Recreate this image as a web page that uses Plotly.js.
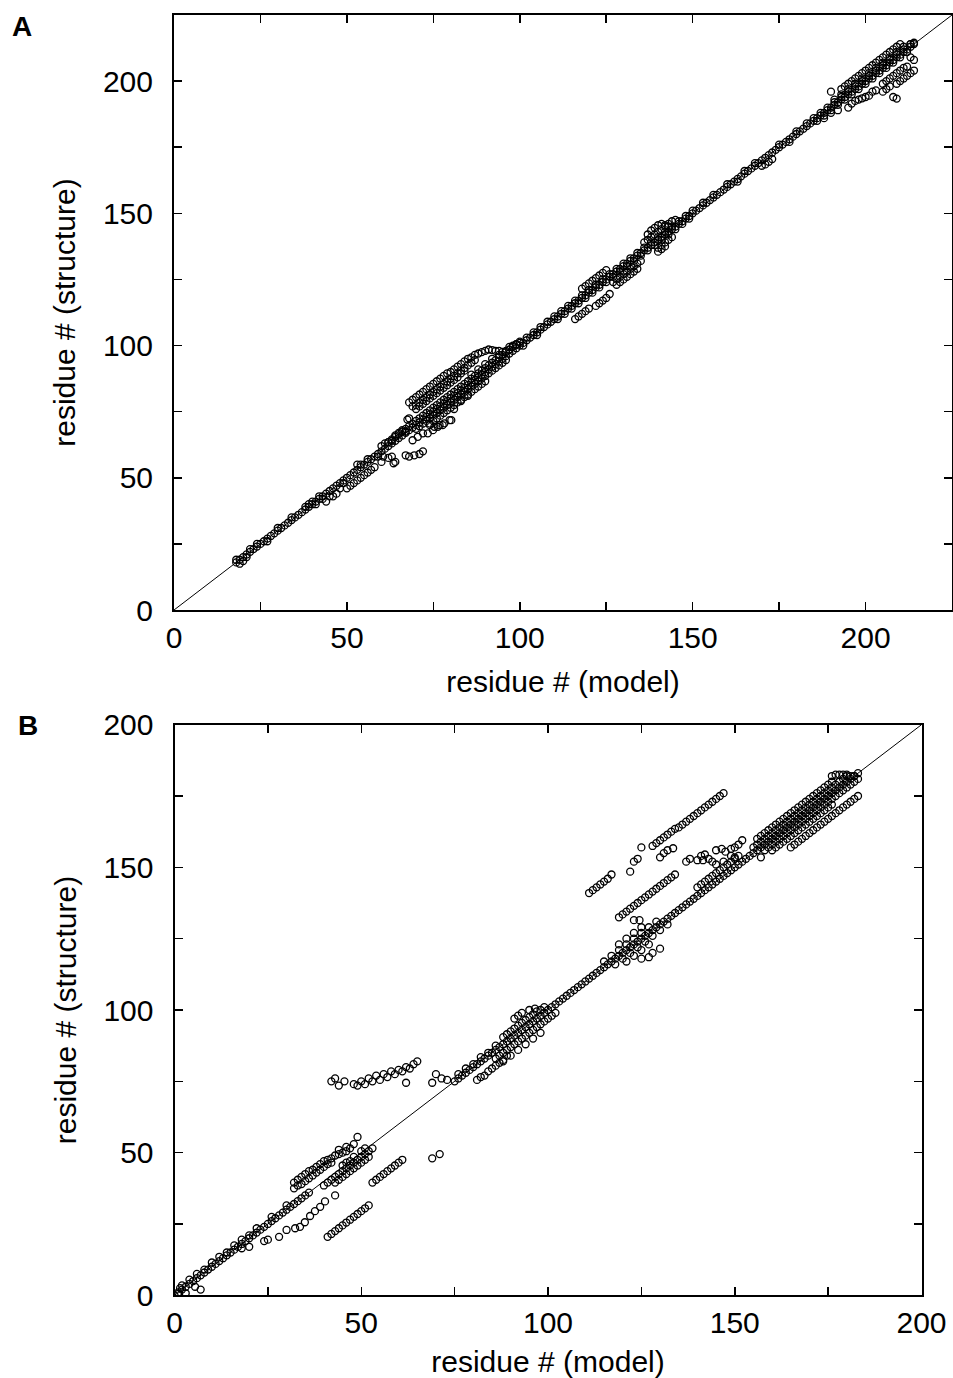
<!DOCTYPE html>
<html><head><meta charset="utf-8">
<script src="https://cdn.plot.ly/plotly-3.0.1.min.js"></script>
<style>html,body{margin:0;padding:0;background:#fff;} #chart{width:953px;height:1378px;}</style>
</head><body><div id="chart"></div>
<script>
// ---------- Panel A data ----------
const aIdentity = [0, 225];
const aTickVals = [0,25,50,75,100,125,150,175,200,225];
const aTickText = ['0','','50','','100','','150','','200',''];
// residues plotted on the diagonal (model residue == structure residue)
const aDiagResidues = [18,19,20,21,22,23,24,25,26,27,28,29,30,31,32,33,34,35,36,37,38,39,40,41,42,43,44,45,46,47,48,49,50,51,52,53,54,55,56,57,58,59,60,61,62,63,64,65,66,67,68,69,70,71,72,73,74,75,76,77,78,79,80,81,82,83,84,85,86,87,88,89,90,91,92,93,94,95,96,97,98,99,100,101,102,103,104,105,106,107,108,109,110,111,112,113,114,115,116,117,118,119,120,121,122,123,124,125,126,127,128,129,130,131,132,133,134,135,136,137,138,139,140,141,142,143,144,145,146,147,148,149,150,151,152,153,154,155,156,157,158,159,160,161,162,163,164,165,166,167,168,169,170,171,172,173,174,175,176,177,178,179,180,181,182,183,184,185,186,187,188,189,190,191,192,193,194,195,196,197,198,199,200,201,202,203,204,205,206,207,208,209,210,211,212,213,214];
const aStart = [[18,19],[19,17.5],[20,18.5],[21,20],[22,23],[24,25],[27,26],[30,31],[34,35]];
const aNear40 = [[38,39],[39,40],[40,41],[41,40],[42,43],[43,42],[44,41],[45,43],[46,43],[47,44],[48,46],[49,48],[53,55],[54,55],[56,57],[59,58]];
const aBelow50 = [[50,46],[51,47],[52,48],[53,49],[54,50],[55,51],[56,52],[57,53],[58,54]];
const aNear60 = [[60,62],[61,63],[62,63.5],[63,64],[64,66],[65,67],[66,68],[67,67.5],[67.5,72],[68,72.5]];
const aBelow60 = [[60,56],[60.5,58],[62,57.5],[63,58],[63.5,55.5],[64,56],[67,58.5],[68,58],[69.5,58.5],[71,59],[72,60]];
const aLowRow70 = [[69,64.2],[70.5,65.5],[72,66.8],[73.4,66.8],[74.9,68],[76.3,69.3],[77.7,69.9],[79.7,71.8],[74,69.9],[75.3,69.3],[76.8,69.9],[78.2,70.6],[80.2,71.8],[81,76],[83,79],[85,81]];
const aBandPlus = [[62,63.5],[63,64.5],[64,65.5],[65,66.5],[66,67.5],[67,68.5],[68,69.5],[69,70.5],[70,71.5],[71,72.5],[72,73.5],[73,74.5],[74,75.5],[75,76.5],[76,77.5],[77,78.5],[78,79.5],[79,80.5],[80,81.5],[81,82.5],[82,83.5],[83,84.5],[84,85.5],[85,86.5],[86,87.5],[87,88.5],[88,89.5],[89,90.5],[90,91.5],[91,92.5],[92,93.5],[93,94.5],[94,95.5],[95,96.5],[96,97.5],[97,98.5],[98,99.5],[99,100.5]];
const aBandMinus = [[70,68.5],[71,69.5],[72,70.5],[73,71.5],[74,72.5],[75,73.5],[76,74.5],[77,75.5],[78,76.5],[79,77.5],[80,78.5],[81,79.5],[82,80.5],[83,81.5],[84,82.5],[85,83.5],[86,84.5],[87,85.5],[88,86.5],[89,87.5],[90,88.5],[91,89.5],[92,90.5],[93,91.5],[94,92.5],[95,93.5],[96,94.5]];
const aBandMinus2 = [[74,70.5],[75,71.5],[76,72.5],[77,73.5],[78,74.5],[79,75.5],[80,76.5],[81,77.5],[82,78.5],[83,79.5],[84,80.5],[85,81.5],[86,82.5],[87,83.5],[88,84.5],[89,85.5],[90,86.5]];
const aUpper1 = [[68,78.5],[69,79.5],[70,80.5],[71,81.5],[72,82.5],[73,83.5],[74,84.5],[75,85.5],[76,86.5],[77,87.5],[78,88.5],[79,89.5],[80,90],[81,91],[82,92],[83,93],[84,94],[85,95],[86,95.5]];
const aUpper2 = [[69,77],[70,77.5],[71,78.5],[72,79.5],[73,80.5],[74,81.5],[75,82.5],[76,83.5],[77,84.5],[78,85.5],[79,86.5],[80,87.5],[81,88.5],[82,89.5],[83,90.5],[84,91.5],[85,92.5],[86,93.5],[87,94.5]];
const aUpper3 = [[70,76],[71,77],[72,78],[73,79],[74,80],[75,81],[76,82],[77,83],[78,84],[79,85],[80,86],[81,87],[82,88],[83,89.5],[84,90.5]];
const aTop88 = [[87,96.5],[88,97],[89,97.5],[90,98],[91,98.5],[92,98.3],[93,98],[94,98],[95,97.6],[96,98],[97,99.5],[98,100],[99,100.5],[100,101.5],[86,89],[88,91],[90,93],[92,95],[94,96.5]];
const a100 = [[100,101],[102,103],[104,105],[106,107],[108,109],[101,100],[105,104]];
const a110Plus = [[110,111],[112,113],[114,115],[116,117],[118,119],[120,121],[122,123],[124,125],[126,127],[128,129],[130,131],[132,133],[134,135],[136,137],[138,139],[140,141],[142,143],[144,145],[146,147],[148,149],[150,151]];
const a110Minus = [[111,110],[113,112],[115,114],[117,116],[119,118],[121,120],[123,122],[125,124],[127,126],[129,128],[131,130],[133,132],[135,134],[137,136],[139,138],[141,140],[143,142],[145,144],[147,146],[149,148]];
const aBelow116 = [[116,110],[117,111],[118,112],[119,113],[120,114],[122,115],[123,116],[124,117],[125,118],[126,119.5]];
const aAbove118 = [[118,121.5],[119,122.5],[120,123.5],[121,124.5],[122,125.5],[123,126.5],[124,127.5],[125,128.5]];
const aBlob128 = [[127,124],[128,125],[129,126],[130,127],[131,128],[132,129],[133,130],[134,131],[135,132],[128,123],[129,124],[130,125],[131,126],[132,127],[133,128],[134,129]];
const aBlob138 = [[137,142],[138,143.5],[139,144.5],[140,145.5],[141,146],[142,145.5],[143,145],[136,139],[137,140],[138,141],[139,142],[140,143],[141,144],[142,145],[143,146],[144,147],[145,147.5],[140,137],[141,138],[142,139],[143,140],[144,141],[140,135.5],[141,136.5],[142,137.5]];
const a150 = [[153,154],[156,157],[160,161],[163,162],[165,166],[168,169],[170,168],[171,168.5],[172,169.5],[173,170.5],[175,176],[178,177],[180,181],[183,184],[188,186],[190,188],[192,189]];
const aBand185 = [[185,186],[187,188],[189,190],[191,192],[193,194],[195,196],[197,198],[199,200],[201,202],[203,204],[205,206],[207,208],[209,210],[211,212],[213,214],[186,185],[188,187],[190,189],[192,191],[194,193],[196,195],[198,197],[200,199],[202,201],[204,203],[206,205],[208,207],[210,209],[212,211]];
const aTop193 = [[193,197],[194,198],[195,199],[196,200],[197,201],[198,202],[199,203],[200,204],[201,205],[202,206],[203,207],[204,208],[205,209],[206,210],[207,211],[208,212],[209,213],[210,214]];
const aRow2 = [[191,193],[193,195],[195,197],[197,199],[199,201],[201,203],[203,205],[205,207],[207,209],[209,211],[211,213]];
const aLow195 = [[195,190],[196,191.5],[197,192.5],[198,193],[199,193.5],[200,194],[201,194.5],[202,196],[203,196.5]];
const aLow205 = [[205,199],[206,200],[207,201],[208,202],[209,203],[210,204],[211,205],[212,205.5],[213,209],[214,208]];
const aLow209 = [[205,196],[206,197],[207,198],[209,199],[210,200],[211,201],[212,202],[213,203],[214,204]];
const aLoose = [[208,194],[209,193.4],[190,196],[213,214],[214,214.5]];

// ---------- Panel B data ----------
const bIdentity = [0, 200];
const bTickVals = [0,25,50,75,100,125,150,175,200];
const bTickText = ['0','','50','','100','','150','','200'];
const bDiagResidues = [0,1,2,3,4,5,6,7,8,9,10,11,12,13,14,15,16,17,18,19,20,21,22,23,24,25,26,27,28,29,30,31,32,33,34,35,36,75,76,77,78,79,80,81,82,83,84,85,86,87,88,89,90,91,92,93,94,95,96,97,98,99,100,101,102,103,104,105,106,107,108,109,110,111,112,113,114,115,116,117,118,119,120,121,122,123,124,125,126,127,128,129,130,131,132,133,134,135,136,137,138,139,140,141,142,143,144,145,146,147,148,149,150,151,152,153,154,155,156,157,158,159,160,161,162,163,164,165,166,167,168,169,170,171,172,173,174,175,176,177,178,179,180,181,182,183];
const bNearStart = [[2,3.5],[4,5.5],[6,7.5],[8,9],[10,11.5],[12,13.5],[14,15],[16,17.5],[18,19.5],[20,21],[22,23.5],[26,27.5],[30,31.5],[18,16.5],[20,17],[1,0.5],[3,0.7],[1.5,2.5],[5.5,3],[7,2],[24,19],[25,19.5]];
const bRowM8 = [[28,20.5],[30,22.9],[32.3,23.5],[33.6,24],[34.9,25.6],[36.3,27.8],[37.6,29.5],[39,31],[40.3,32.9],[43,35]];
const bRowM20 = [[41,20.5],[42,21.5],[43,22.5],[44,23.5],[45,24.5],[46,25.5],[47,26.5],[48,27.5],[49,28.5],[50,29.5],[51,30.5],[52,31.5]];
const bRowM13 = [[53,39.5],[54,40.5],[55,41.5],[56,42.5],[57,43.5],[58,44.5],[59,45.5],[60,46.5],[61,47.5],[69,48],[71,49.5]];
const bUpper32 = [[32,39.5],[33,40.5],[34,41.5],[35,42.5],[36,43.5],[37,44],[38,45],[39,46],[40,47],[41,47.5],[42,48],[43,49],[44,49.5],[32,37.5],[33,38.5],[34,39],[35,40],[36,41],[37,42],[38,43],[39,44],[40,45],[41,46],[42,46.5],[45,50],[46,50.5],[47,51.5],[48,53],[49,55.5],[44,51],[46,52]];
const bMid41 = [[40,38.5],[41,39.5],[42,40.5],[43,41.5],[44,42.5],[45,43.5],[46,44.5],[47,45.5],[48,46.5],[49,47.5],[50,48.5],[51,49.5],[52,50.5],[53,51.5],[43,39.5],[44,40.5],[45,41.5],[46,42.5],[47,43.5],[48,44.5],[49,45.5],[50,46.5],[51,47.5],[52,48.5],[45,45.5],[46,46.5],[47,47],[48,48.5],[50,50.5],[51,51.5]];
const bUpper73 = [[42,75],[43,76],[44,73.5],[45.5,75],[48,74],[49,73.5],[50,75],[51,74],[52,76],[53,75],[54,77],[55,75.5],[56,77.5],[57,76.5],[58,78.5],[59,77.5],[60,79],[61,78.5],[62,80],[63,79.5],[64,81],[62,74.5],[65,82],[69,74.5],[70,77.5],[71.5,76],[73,75.5]];
const bBelow81 = [[81,75.5],[82,76.5],[83,77],[84,78.5],[85,79.5],[86,80.5],[87,81.5],[88,82.5],[89,84],[76,77.5],[78,79.5],[80,81],[82,83.5],[84,85],[86,87.5]];
const bClus90 = [[91,97],[92,98],[93,99],[95,100],[96.5,100.5],[88,90.5],[89,91.5],[90,92.5],[91,93.5],[92,94.5],[93,95.5],[94,96.5],[95,97.5],[96,98.5],[97,99.5],[98,100],[99,101],[86,83],[87,84],[88,85],[89,86],[90,87],[91,88],[92,89],[93,90],[94,91],[95,92],[96,93],[97,94],[98,95],[99,96],[100,97],[101,98],[102,99],[88,82],[90,84],[92,86],[94,88],[96,90],[98,92]];
const bPlus30 = [[111,141],[112,142],[113,143],[114,144],[115,145],[116,146],[117,147.5],[122,148.5],[123,152],[124,153],[125,157]];
const bRow29 = [[128,157.5],[129,158.5],[130,159.5],[131,160.5],[132,161.5],[133,162.5],[134,163.5],[135,164],[136,165],[137,166],[138,167],[139,168],[140,169],[141,170],[142,171],[143,172],[144,173],[145,174],[146,175],[147,176]];
const bRow23 = [[130,153.5],[131,155],[132,156],[133.5,156.7]];
const bRow13 = [[119,132.5],[120,133.5],[121,134.5],[122,135.5],[123,136.5],[124,137.5],[125,138.5],[126,139.5],[127,140.5],[128,141.5],[129,142.5],[130,143.5],[131,144.5],[132,145.5],[133,146.5],[134,147.5],[123,131.5],[124.5,131.5]];
const bClus120 = [[115,117],[117,119],[119,121],[121,123],[123,125],[125,127],[127,129],[129,131],[118,116],[120,118],[122,120],[124,122],[126,124],[128,126],[130,128],[132,130],[121,117],[123,119],[125,121],[127,123],[125,118],[127,118.5],[128,120],[130,121.5],[119,123],[121,125],[123,127],[125,129]];
const bClus140 = [[137,152],[138,153],[140,152.5],[141,154],[142,154.5],[145,156],[146.5,156.5],[147.5,155.5],[149,156.5],[150,157],[151,158],[152,159.5],[141.5,152.5],[143,153],[144,152],[145,151],[147,152],[149,154],[150,153.5],[140,143],[141,144],[142,145],[143,146],[144,147],[145,148],[146,149],[147,150],[148,151],[149,152],[150,153],[151,154]];
const bBandPlus4 = [[156,160],[157,161],[158,162],[159,163],[160,164],[161,165],[162,166],[163,167],[164,168],[165,169],[166,170],[167,171],[168,172],[169,173],[170,174],[171,175],[172,176],[173,177],[174,178],[175,179],[176,180]];
const bBandPlus2 = [[155,157],[156,158],[157,159],[158,160],[159,161],[160,162],[161,163],[162,164],[163,165],[164,166],[165,167],[166,168],[167,169],[168,170],[169,171],[170,172],[171,173],[172,174],[173,175],[174,176],[175,177],[176,178],[177,179],[178,180],[179,181],[180,182]];
const bBandMinus2 = [[158,156],[159,157],[160,158],[161,159],[162,160],[163,161],[164,162],[165,163],[166,164],[167,165],[168,166],[169,167],[170,168],[171,169],[172,170],[173,171],[174,172],[175,173],[176,174],[177,175],[178,176],[179,177],[180,178],[181,179],[182,180],[183,181]];
const bBandMinus4 = [[160,156],[161,157],[162,158],[163,159],[164,160],[165,161],[166,162],[167,163],[168,164],[169,165],[170,166],[171,167],[172,168],[173,169],[174,170],[175,171],[176,172]];
const bBandMinus8 = [[165,157],[166,158],[167,159],[168,160],[169,161],[170,162],[171,163],[172,164],[173,165],[174,166],[175,167],[176,168],[177,169],[178,170],[179,171],[180,172],[181,173],[182,174],[183,175]];
const bCap = [[176,182],[177,182.5],[178,182.5],[179,182.5],[180,182.5],[181,182],[182,182],[157,153.5]];

// ---------- build ----------
const aGroups = [aStart,aNear40,aBelow50,aNear60,aBelow60,aLowRow70,aBandPlus,aBandMinus,aBandMinus2,aUpper1,aUpper2,aUpper3,aTop88,a100,a110Plus,a110Minus,aBelow116,aAbove118,aBlob128,aBlob138,a150,aBand185,aTop193,aRow2,aLow195,aLow205,aLow209,aLoose];
const bGroups = [bNearStart,bRowM8,bRowM20,bRowM13,bUpper32,bMid41,bUpper73,bBelow81,bClus90,bPlus30,bRow29,bRow23,bRow13,bClus120,bClus140,bBandPlus4,bBandPlus2,bBandMinus2,bBandMinus4,bBandMinus8,bCap];

function collect(diag, groups){
  const x = diag.slice(), y = diag.slice();
  groups.forEach(g => g.forEach(p => { x.push(p[0]); y.push(p[1]); }));
  return {x, y};
}
const A = collect(aDiagResidues, aGroups);
const B = collect(bDiagResidues, bGroups);

const W = 953, H = 1378;
const FONT = 'Liberation Sans, Arial, Helvetica, sans-serif';
const marker = {symbol:'circle-open', size:7, color:'#000', line:{width:1.3, color:'#000'}};

const traces = [
  {x:aIdentity, y:aIdentity, mode:'lines', line:{color:'#000', width:1}, xaxis:'x', yaxis:'y', hoverinfo:'skip'},
  {x:A.x, y:A.y, mode:'markers', marker, xaxis:'x', yaxis:'y'},
  {x:bIdentity, y:bIdentity, mode:'lines', line:{color:'#000', width:1}, xaxis:'x2', yaxis:'y2', hoverinfo:'skip'},
  {x:B.x, y:B.y, mode:'markers', marker, xaxis:'x2', yaxis:'y2'}
];

function axis(range, vals, text, domain, title, anchor, standoff, labelOff){
  return {
    range, domain, anchor, tickvals: vals, ticktext: text,
    showline:true, linecolor:'#000', linewidth:2, mirror:'ticks',
    ticks:'inside', ticklen:8, tickwidth:1.5, tickcolor:'#000',
    ticklabelstandoff: labelOff,
    showgrid:false, zeroline:false, automargin:false,
    tickfont:{family:FONT, size:30, color:'#000'},
    title:{text:title, font:{family:FONT, size:30, color:'#000'}, standoff}
  };
}

const layout = {
  width:W, height:H, margin:{l:0,r:0,t:0,b:0},
  paper_bgcolor:'#fff', plot_bgcolor:'#fff', showlegend:false,
  xaxis: axis([0,225], aTickVals, aTickText, [174/W, 952/W], 'residue # (model)', 'y', 18, 0),
  yaxis: axis([0,225], aTickVals, aTickText, [1-610/H, 1-15/H], 'residue # (structure)', 'x', 18, 13),
  xaxis2: axis([0,200], bTickVals, bTickText, [174.5/W, 921.5/W], 'residue # (model)', 'y2', 18, 0),
  yaxis2: axis([0,200], bTickVals, bTickText, [1-1295.3/H, 1-724.7/H], 'residue # (structure)', 'x2', 18, 13),
  annotations:[
    {text:'<b>A</b>', x:22/W, y:1-27/H, xref:'paper', yref:'paper', xanchor:'center', yanchor:'middle', showarrow:false, font:{family:FONT, size:28, color:'#000'}},
    {text:'<b>B</b>', x:28/W, y:1-725/H, xref:'paper', yref:'paper', xanchor:'center', yanchor:'middle', showarrow:false, font:{family:FONT, size:28, color:'#000'}}
  ]
};

Plotly.newPlot('chart', traces, layout, {displayModeBar:false, staticPlot:true});
</script></body></html>
